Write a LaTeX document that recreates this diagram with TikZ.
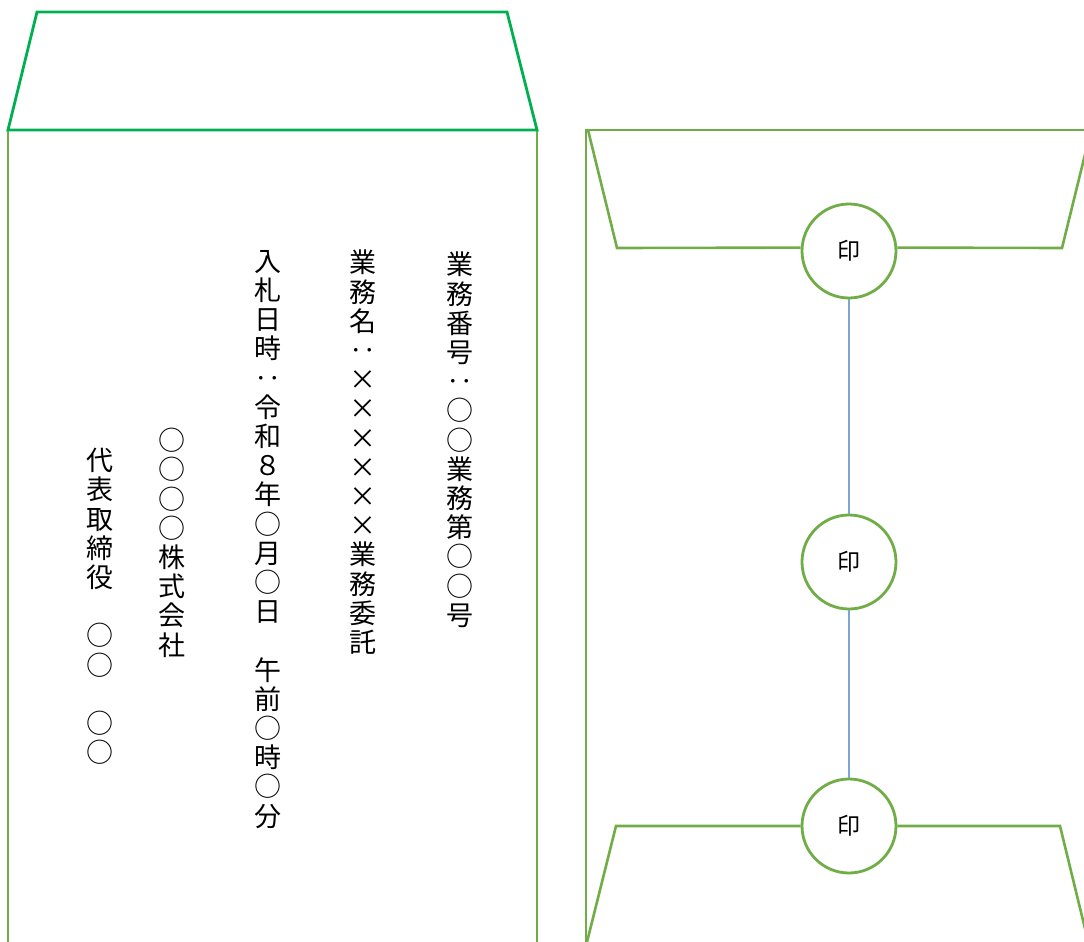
\documentclass[tikz,border=0pt]{standalone}
\usepackage{fontspec}
\newfontfamily\jpfont{Noto Sans CJK JP}
\usetikzlibrary{positioning}
\definecolor{flapgreen}{HTML}{00B050}
\definecolor{envgreen}{HTML}{70AD47}
\definecolor{tieblue}{HTML}{7EA6D3}

\begin{document}
\begin{tikzpicture}
  [x=1pt,y=-1pt,
   every node/.style={inner sep=0pt},
   flap/.style={flapgreen,line width=2.8pt},
   body/.style={envgreen,line width=2.6pt},
   seal/.style={circle,draw=envgreen,line width=2.8pt,fill=white,minimum size=94pt,
     font=\jpfont\fontsize{23}{23}\selectfont},
   tie/.style={tieblue,line width=1.2pt},
   tate/.style={anchor=north,align=center,font=\jpfont\fontsize{27}{29.2}\selectfont}]
  \useasboundingbox (0,0) rectangle (1084,942);
  \clip (0,0) rectangle (1084,942);

  % front of the envelope
  \coordinate (fl) at (8,130);
  \coordinate (fr) at (537,130);
  \draw[body] (fl) -- (8,960);
  \draw[body] (fr) -- (537,960);
  \draw[flap] (fl) -- (37,12) -- (507,12) -- (fr) -- cycle;

  \node[tate] (no) at (460,252) {業\\務\\番\\号\\‥\\○\\○\\業\\務\\第\\○\\○\\号};
  \node[tate] (name) at (363,250) {業\\務\\名\\‥\\×\\×\\×\\×\\×\\×\\業\\務\\委\\託};
  \node[tate] (date) at (268,250) {入\\札\\日\\時\\‥\\令\\和\\８\\年\\○\\月\\○\\日\\　\\午\\前\\○\\時\\○\\分};
  \node[tate] (firm) at (172,428) {○\\○\\○\\○\\株\\式\\会\\社};
  \node[tate] (rep) at (100,448) {代\\表\\取\\締\\役\\　\\○\\○\\　\\○\\○};

  % back of the envelope
  \node[seal] (s1) at (849,251) {印};
  \node[seal] (s2) at (849,562) {印};
  \node[seal] (s3) at (849,826) {印};
  \draw[body] (586,960) -- (586,130) -- (1100,130);
  \draw[body] (1091,130) -- (1062,248) -- (s1.4);
  \draw[body] (s1.176) -- (617,248) -- (588,130);
  \draw[body] (587,942) -- (616,826) -- (s3.west);
  \draw[body] (s3.east) -- (1060,826) -- (1089,945);
  \draw[tie] (s1) -- (s2);
  \draw[tie] (s2) -- (s3);
\end{tikzpicture}
\end{document}
